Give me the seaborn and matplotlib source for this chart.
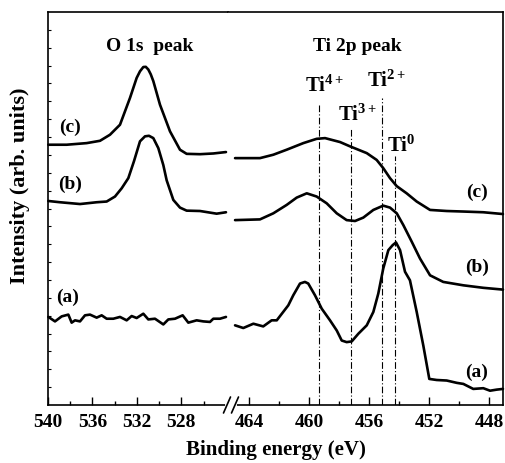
import matplotlib
matplotlib.use("Agg")
import matplotlib.pyplot as plt
import seaborn as sns
import pandas as pd
from matplotlib.lines import Line2D

# ---------------- data ----------------
o1s_a_E = [539.97, 539.37, 538.77, 538.17, 537.87, 537.57, 537.12, 536.67, 536.22, 535.62,
           535.17, 534.72, 534.12, 533.52, 532.92, 532.47, 532.02, 531.42, 530.97, 530.37,
           529.62, 529.17, 528.57, 527.88, 527.37, 526.62, 526.02, 525.42, 525.12, 524.52, 523.98]
o1s_a_I = [4.93, 4.68, 4.96, 5.06, 4.61, 4.74, 4.68, 5.02, 5.06, 4.89,
           5.02, 4.83, 4.83, 4.93, 4.74, 4.98, 4.87, 5.11, 4.79, 4.83,
           4.51, 4.79, 4.83, 5.02, 4.61, 4.74, 4.68, 4.65, 4.83, 4.83, 4.93]

o1s_b_E = [539.97, 538.92, 537.12, 535.62, 534.72, 533.97, 533.37, 532.77, 532.26, 531.72,
           531.27, 530.91, 530.52, 530.07, 529.62, 529.32, 528.72, 528.12, 527.52, 526.32,
           525.42, 524.82, 523.98]
o1s_b_I = [11.42, 11.35, 11.25, 11.35, 11.39, 11.67, 12.13, 12.70, 13.65, 14.76,
           15.04, 15.07, 14.94, 14.38, 13.43, 12.58, 11.48, 11.05, 10.88, 10.86,
           10.77, 10.71, 10.79]

o1s_c_E = [539.97, 538.32, 536.52, 535.32, 534.42, 533.52, 532.62, 532.02, 531.72, 531.42,
           531.20, 530.97, 530.75, 530.52, 529.92, 529.02, 528.12, 527.52, 526.32, 525.12, 523.98]
o1s_c_I = [14.57, 14.57, 14.66, 14.79, 15.13, 15.69, 17.19, 18.31, 18.68, 18.92,
           18.93, 18.78, 18.51, 18.13, 16.81, 15.32, 14.29, 14.06, 14.04, 14.08, 14.16]

ti_a_E = [464.93, 464.38, 463.71, 463.05, 462.49, 462.15, 461.38, 461.05, 460.60, 460.27,
          460.05, 459.60, 459.15, 458.60, 458.15, 457.82, 457.49, 457.15, 456.71, 456.15,
          455.71, 455.38, 455.05, 454.71, 454.42, 454.20, 453.93, 453.60, 453.27, 452.82,
          452.38, 451.98, 451.49, 450.82, 450.15, 449.71, 449.05, 448.38, 447.93, 447.49, 447.07]
ti_a_I = [4.46, 4.31, 4.55, 4.40, 4.74, 4.74, 5.58, 6.14, 6.80, 6.89,
          6.80, 6.14, 5.39, 4.74, 4.17, 3.61, 3.52, 3.56, 3.99, 4.46,
          5.21, 6.24, 7.64, 8.67, 8.95, 9.10, 8.67, 7.46, 6.98, 5.21,
          3.33, 1.46, 1.40, 1.37, 1.24, 1.18, 0.90, 0.94, 0.80, 0.86, 0.90]

ti_b_E = [464.93, 463.27, 462.38, 461.49, 460.82, 460.15, 459.49, 458.82, 458.15, 457.49,
          456.93, 456.38, 455.71, 455.05, 454.60, 454.15, 453.71, 453.15, 452.60, 451.93,
          451.05, 449.71, 448.38, 447.07]
ti_b_I = [10.35, 10.39, 10.73, 11.20, 11.61, 11.85, 11.67, 11.29, 10.73, 10.35,
          10.30, 10.49, 10.92, 11.16, 11.05, 10.73, 10.07, 9.14, 8.20, 7.26,
          6.89, 6.70, 6.56, 6.46]

ti_c_E = [464.93, 463.27, 462.38, 461.49, 460.38, 459.49, 458.93, 457.93, 457.27, 456.15,
          455.49, 455.05, 454.60, 454.15, 453.49, 452.82, 451.93, 450.82, 449.71, 448.38, 447.07]
ti_c_I = [13.82, 13.82, 14.01, 14.29, 14.66, 14.90, 14.94, 14.72, 14.48, 14.10,
          13.72, 13.26, 12.70, 12.25, 11.85, 11.39, 10.92, 10.86, 10.83, 10.79, 10.69]

ref_labels = ["Ti$^{4+}$", "Ti$^{3+}$", "Ti$^{2+}$", "Ti$^{0}$"]
ref_E = [459.33, 457.20, 455.15, 454.30]
ref_top = [16.91, 15.51, 17.19, 13.93]
ref_label_E = [460.27, 458.07, 456.13, 454.80]
ref_label_I = [17.58, 15.96, 17.87, 14.21]

left_ticks = [540, 536, 532, 528]
right_ticks = [464, 460, 456, 452, 448]
sample_labels = ["(a)", "(b)", "(c)"]

# ---------------- style ----------------
sns.set_theme(style="ticks")
plt.rcParams["font.family"] = ["Liberation Serif", "DejaVu Serif"]
plt.rcParams["font.weight"] = "bold"
plt.rcParams["text.color"] = "black"
plt.rcParams["axes.labelcolor"] = "black"
plt.rcParams["xtick.color"] = "black"
plt.rcParams["ytick.color"] = "black"
plt.rcParams["mathtext.fontset"] = "custom"
plt.rcParams["mathtext.rm"] = "Liberation Serif:bold"
plt.rcParams["mathtext.it"] = "Liberation Serif:bold"
plt.rcParams["mathtext.bf"] = "Liberation Serif:bold"
plt.rcParams["mathtext.default"] = "rm"

W, H = 505, 464
fig = plt.figure(figsize=(W / 100, H / 100), dpi=100)
x0, xs, x1 = 48, 228, 503
yb, yt = 406, 13
axL = fig.add_axes([x0 / W, 1 - yb / H, (xs - x0) / W, (yb - yt) / H])
axR = fig.add_axes([xs / W, 1 - yb / H, (x1 - xs) / W, (yb - yt) / H])

lw = 1.9
def draw(ax, E, I):
    df = pd.DataFrame({"E": E, "I": I})
    sns.lineplot(data=df, x="E", y="I", ax=ax, color="black", lw=lw,
                 sort=False, estimator=None, clip_on=False)

for E, I in [(o1s_a_E, o1s_a_I), (o1s_b_E, o1s_b_I), (o1s_c_E, o1s_c_I)]:
    draw(axL, E, I)
for E, I in [(ti_a_E, ti_a_I), (ti_b_E, ti_b_I), (ti_c_E, ti_c_I)]:
    draw(axR, E, I)

for e, top in zip(ref_E, ref_top):
    axR.plot([e, e], [0, top], color="black", lw=0.8, ls=(0, (6, 2, 1, 2)))

fs = 14
for lab, e, i in zip(ref_labels, ref_label_E, ref_label_I):
    axR.text(e, i, lab, fontsize=15, fontweight="bold", ha="left", va="baseline", color="black")

# panel labels
left_lab_E = [538.2, 538.02, 538.02]
left_lab_I = [6.07, 12.42, 15.62]
right_lab_E = [448.8, 448.8, 448.8]
right_lab_I = [1.91, 7.75, 11.97]
for lab, e, i in zip(sample_labels, left_lab_E, left_lab_I):
    axL.text(e, i, lab, fontsize=fs, fontweight="bold", ha="center", va="center", color="black")
for lab, e, i in zip(sample_labels, right_lab_E, right_lab_I):
    axR.text(e, i, lab, fontsize=fs, fontweight="bold", ha="center", va="center", color="black")

axL.text(530.82, 20.1, "O 1s  peak", fontsize=fs, fontweight="bold", ha="center", va="center",
         color="black")
axR.text(456.8, 20.1, "Ti 2p peak", fontsize=fs, fontweight="bold", ha="center", va="center",
         color="black")

# axes limits
axL.set_xlim(540, 540 - (xs - x0) / 11.11)
axR.set_xlim(464 + (249 - xs) / 15, 448 - (x1 - 489) / 15)
for ax in (axL, axR):
    ax.set_ylim(0, 22)
    ax.set_xlabel("")
    ax.set_ylabel("")
    for s in ax.spines.values():
        s.set_linewidth(1.2)
        s.set_color("black")
axL.spines["right"].set_visible(False)
axR.spines["left"].set_visible(False)

axL.set_xticks(left_ticks)
axL.set_xticks([538, 534, 530, 526], minor=True)
axR.set_xticks(right_ticks)
axR.set_xticks([462, 458, 454, 450], minor=True)
for ax in (axL, axR):
    ax.tick_params(axis="x", which="major", direction="in", length=6, width=1,
                   labelsize=fs, pad=6, top=False, colors="black")
    ax.tick_params(axis="x", which="minor", direction="in", length=3, width=1, top=False,
                   colors="black")
    for t in ax.get_xticklabels():
        t.set_fontweight("bold")
axL.set_yticks(range(1, 22))
axL.tick_params(axis="y", direction="in", length=2.5, width=0.8, labelleft=False, right=False,
                colors="black")
axR.set_yticks([])
axR.tick_params(axis="y", left=False, right=False)

fig.text(275.5 / W, 1 - 450 / H, "Binding energy (eV)", fontsize=15, fontweight="bold",
         ha="center", va="center", color="black")
fig.text(20 / W, 1 - 186 / H, "Intensity (arb. units)", fontsize=16, fontweight="bold",
         ha="center", va="center", rotation=90, color="black")

# axis break marks
def fx(px): return px / W
def fy(py): return 1 - py / H
fig.add_artist(Line2D([fx(226.5), fx(234.5)], [fy(406), fy(406)], color="white", lw=3))
for xa in (223.5, 231.5):
    fig.add_artist(Line2D([fx(xa), fx(xa + 7)], [fy(414), fy(398)], color="black", lw=1.2))

fig.savefig("out.png", dpi=100)
